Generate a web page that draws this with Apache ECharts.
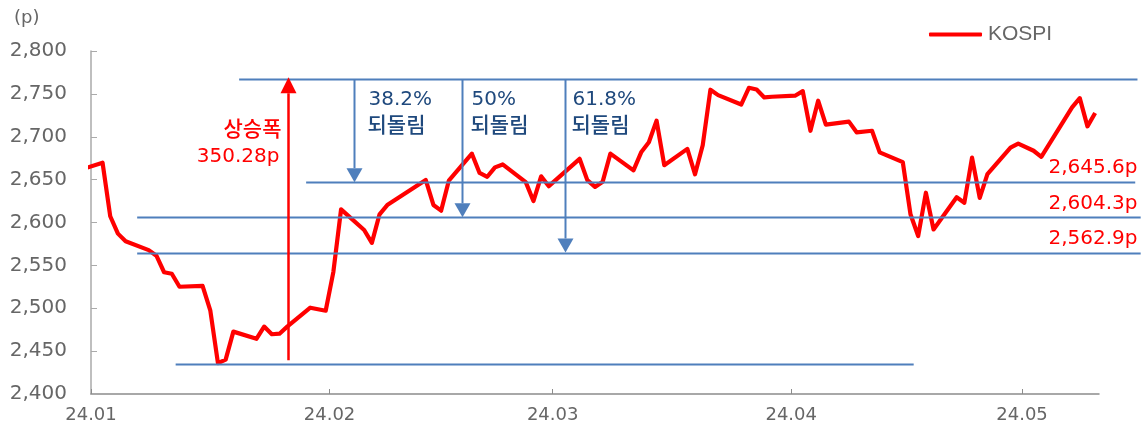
<!DOCTYPE html>
<html><head><meta charset="utf-8">
<script src="https://cdn.jsdelivr.net/npm/echarts@6/dist/echarts.min.js"></script>
<style>html,body{margin:0;padding:0;background:#fff}#c{width:1143px;height:427px}</style>
</head><body><div id="c"></div>
<script>
// ---- data (KOSPI daily close) ----
const dates = [
  '2023-12-28',
  '2024-01-02','2024-01-03','2024-01-04','2024-01-05','2024-01-08','2024-01-09','2024-01-10','2024-01-11','2024-01-12',
  '2024-01-15','2024-01-16','2024-01-17','2024-01-18','2024-01-19','2024-01-22','2024-01-23','2024-01-24','2024-01-25',
  '2024-01-26','2024-01-29','2024-01-30','2024-01-31',
  '2024-02-01','2024-02-02','2024-02-05','2024-02-06','2024-02-07','2024-02-08','2024-02-13','2024-02-14','2024-02-15',
  '2024-02-16','2024-02-19','2024-02-20','2024-02-21','2024-02-22','2024-02-23','2024-02-26','2024-02-27','2024-02-28','2024-02-29',
  '2024-03-04','2024-03-05','2024-03-06','2024-03-07','2024-03-08','2024-03-11','2024-03-12','2024-03-13','2024-03-14',
  '2024-03-15','2024-03-18','2024-03-19','2024-03-20','2024-03-21','2024-03-22','2024-03-25','2024-03-26','2024-03-27',
  '2024-03-28','2024-03-29',
  '2024-04-01','2024-04-02','2024-04-03','2024-04-04','2024-04-05','2024-04-08','2024-04-09','2024-04-11','2024-04-12',
  '2024-04-15','2024-04-16','2024-04-17','2024-04-18','2024-04-19','2024-04-22','2024-04-23','2024-04-24','2024-04-25',
  '2024-04-26','2024-04-29','2024-04-30',
  '2024-05-02','2024-05-03','2024-05-07','2024-05-08','2024-05-09','2024-05-10'
];
const kospi = [
  2655.28,
  2669.81,2607.31,2587.02,2578.08,2567.82,2561.24,2541.98,2540.27,2525.05,
  2525.99,2497.59,2435.90,2440.04,2472.74,2464.35,2478.61,2469.69,2470.34,
  2478.56,2500.65,2498.81,2497.09,
  2542.46,2615.31,2591.31,2576.20,2609.58,2620.32,2649.64,2620.42,2613.80,
  2648.76,2680.26,2657.79,2653.31,2664.27,2667.70,2647.08,2625.05,2653.82,2642.36,
  2674.27,2649.40,2641.49,2647.62,2680.35,2660.79,2681.81,2693.57,2718.76,
  2666.84,2685.84,2656.17,2690.14,2754.86,2748.56,2737.57,2757.09,2755.11,
  2745.82,2746.63,
  2747.86,2753.16,2706.97,2742.00,2714.21,2717.65,2705.16,2706.96,2681.82,
  2670.43,2609.63,2584.18,2634.70,2591.86,2629.44,2623.02,2675.75,2628.62,
  2656.33,2687.44,2692.06,
  2683.65,2676.63,2734.36,2745.05,2712.14,2727.63
];
const monthTicks = ['2024-01-01','2024-02-01','2024-03-01','2024-04-01','2024-05-01'];
const xRange = ['2024-01-01','2024-05-11'];
const yRange = [2400, 2800, 50];

// ---- annotations (in data units: date, value) ----
const levelLines = [ // [from, to, level]
  ['2024-01-20 06:00','2024-05-16 00:00',2767],
  ['2024-01-28 23:00','2024-05-15 17:00',2647],
  ['2024-01-07 00:00','2024-05-16 10:00',2606],
  ['2024-01-07 00:00','2024-05-16 10:00',2565],
  ['2024-01-12 00:00','2024-04-16 22:00',2435]
];
const riseArrow = ['2024-01-26 14:00', 2439.5, 2767];
const riseLabel = ['상승폭', '350.28p'];
const retraceArrows = [ // [date, from, to]
  ['2024-02-04 05:00',2767,2647],
  ['2024-02-18 05:00',2767,2606],
  ['2024-03-02 15:00',2767,2565]
];
const retraceLabels = [['38.2%','되돌림'],['50%','되돌림'],['61.8%','되돌림']];
const levelLabels = ['2,645.6p','2,604.3p','2,562.9p'];
const levelLabelDate = '2024-05-16 00:00';

function toTs(s){
  const m = s.match(/(\d+)-(\d+)-(\d+)(?:\s+(\d+):(\d+))?/);
  return new Date(+m[1], +m[2]-1, +m[3], m[4]?+m[4]:0, m[5]?+m[5]:0).getTime();
}
const HALF_DAY = 12*3600*1000;
const seriesData = dates.map((d,i)=>[toTs(d)+HALF_DAY, kospi[i]]);
const monthTs = monthTicks.map(toTs);

const NFONT = '"DejaVu Sans", "Noto Sans CJK KR", sans-serif';
const LFONT = '"Liberation Sans", Arial, sans-serif';
const KFONT = '"Noto Sans CJK KR", "DejaVu Sans", sans-serif';
const BLUE = '#4f7fbc';
const NAVY = '#1f497d';
const RED = '#ff0000';
const GRAY = '#666666';

const chart = echarts.init(document.getElementById('c'), null, {renderer:'canvas'});
chart.setOption({
  animation:false,
  backgroundColor:'#fff',
  title:{text:'(p)', left:14, top:9, padding:0, textStyle:{fontFamily:NFONT, fontSize:18, fontWeight:'normal', color:GRAY}},
  legend:{
    data:['KOSPI'], left:929, top:24, padding:0, icon:'roundRect', itemWidth:53, itemHeight:4, itemGap:5,
    textStyle:{fontFamily:LFONT, fontSize:21, color:GRAY, padding:[0,0,0,1]}
  },
  grid:{left:91, right:44, top:51, bottom:33, containLabel:false},
  xAxis:{
    type:'value', min:toTs(xRange[0]), max:toTs(xRange[1]),
    axisLine:{lineStyle:{color:'#8c8c8c', width:1.5}},
    axisTick:{show:true, inside:true, length:5, customValues:monthTs, lineStyle:{color:'#8c8c8c'}},
    axisLabel:{customValues:monthTs, margin:12, fontFamily:NFONT, fontSize:18, color:GRAY,
      formatter:function(v){const d=new Date(v);return String(d.getFullYear()%100).padStart(2,'0')+'.'+String(d.getMonth()+1).padStart(2,'0');}},
    splitLine:{show:false}
  },
  yAxis:{
    type:'value', min:yRange[0], max:yRange[1], interval:yRange[2],
    axisLine:{show:true, lineStyle:{color:'#aaaaaa', width:1.5}},
    axisTick:{show:true, inside:true, length:6, lineStyle:{color:'#aaaaaa'}},
    axisLabel:{margin:24, fontFamily:NFONT, fontSize:20, color:GRAY,
      formatter:function(v){return v.toLocaleString('en-US');}},
    splitLine:{show:false}
  },
  series:[{
    name:'KOSPI', type:'line', data:seriesData, showSymbol:false, symbol:'none', clip:true,
    lineStyle:{color:RED, width:4.2, join:'round'}, itemStyle:{color:RED}
  }]
});

function px(date, val){ return chart.convertToPixel({gridIndex:0}, [toTs(date), val]); }
function txt(x, y, s, color, font, align){
  return {type:'text', x:x, y:y, style:{text:s, fill:color, font:font, align:align, verticalAlign:'middle'}, z:60};
}
const g = [];
levelLines.forEach(l=>{
  const a = px(l[0], l[2]), b = px(l[1], l[2]);
  g.push({type:'line', shape:{x1:a[0], y1:Math.round(a[1])+0.5, x2:b[0], y2:Math.round(a[1])+0.5}, style:{stroke:BLUE, lineWidth:2}, z:50});
});
// red up arrow
(function(){
  const b = px(riseArrow[0], riseArrow[1]), t = px(riseArrow[0], riseArrow[2]);
  const x = Math.round(b[0])+0.5, head = 14, hw = 8;
  g.push({type:'line', shape:{x1:x, y1:b[1], x2:x, y2:t[1]+head}, style:{stroke:RED, lineWidth:2.5}, z:60});
  g.push({type:'polygon', shape:{points:[[x-hw,t[1]+head],[x+hw,t[1]+head],[x,t[1]-2]]}, style:{fill:RED}, z:60});
  g.push(txt(x-7, t[1]+49, riseLabel[0], RED, '500 21px '+KFONT, 'right'));
  g.push(txt(x-9, t[1]+77, riseLabel[1], RED, '20px '+NFONT, 'right'));
})();
// blue down arrows
const labelDx = [14, 9, 7];
retraceArrows.forEach((a,i)=>{
  const t = px(a[0], a[1]), b = px(a[0], a[2]);
  const x = Math.round(t[0])+0.5, head = 14, hw = 8;
  g.push({type:'line', shape:{x1:x, y1:t[1], x2:x, y2:b[1]-head}, style:{stroke:BLUE, lineWidth:2}, z:55});
  g.push({type:'polygon', shape:{points:[[x-hw,b[1]-head],[x+hw,b[1]-head],[x,b[1]]]}, style:{fill:BLUE}, z:55});
  g.push(txt(x+labelDx[i], t[1]+20, retraceLabels[i][0], NAVY, '20px '+NFONT, 'left'));
  g.push(txt(x+labelDx[i]-1, t[1]+45, retraceLabels[i][1], NAVY, '500 21px '+KFONT, 'left'));
});
// level labels
levelLabels.forEach((s,i)=>{
  const p = px(levelLabelDate, levelLines[i+1][2]);
  g.push(txt(p[0], p[1]-14, s, RED, '20px '+NFONT, 'right'));
});
chart.setOption({graphic:g});
</script></body></html>
